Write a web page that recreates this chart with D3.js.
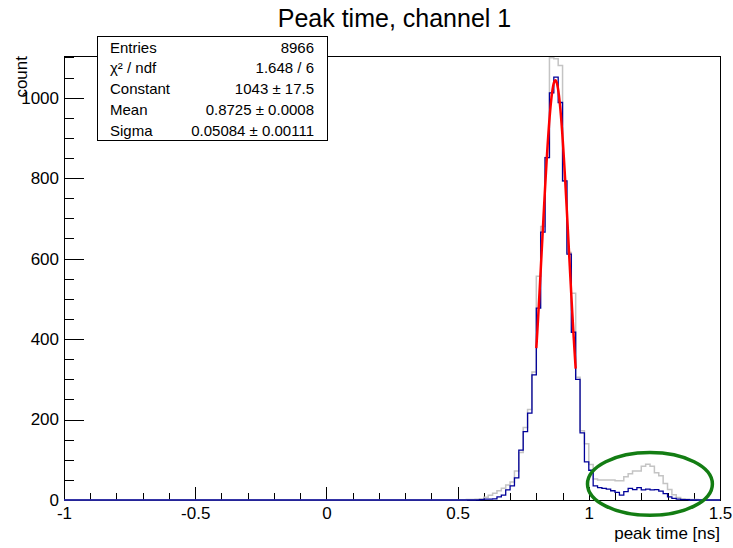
<!DOCTYPE html>
<html>
<head>
<meta charset="utf-8">
<script src="https://cdn.jsdelivr.net/npm/d3@7"></script>
<style>
  html, body { margin: 0; padding: 0; background: #fff; }
  svg text { font-family: "Liberation Sans", Arial, Helvetica, sans-serif; fill: #000; }
</style>
</head>
<body>
<svg id="chart" width="733" height="548"></svg>
<script>
// Peak-time histograms: 150 equal bins from -1 ns to 1.5 ns
const binRange = [-1, 1.5];

// Selected events (blue)
const blueCounts = [
  0,0,0,0,0,0,0,0,0,0, 0,0,0,0,0,0,0,0,0,0, 0,0,0,0,0,0,0,0,0,0,
  0,0,0,0,0,0,0,0,0,0, 0,0,0,0,0,0,0,0,0,0, 0,0,0,0,0,0,0,0,0,0,
  0,0,0,0,0,0,0,0,0,0, 0,0,0,0,0,0,0,0,0,0, 0,0,0,0,0,0,0,0,0,0,
  0,0,0,0,0,1,2,2,3,8,
  12,25,35,55,124,170,216,311,477,666,
  851,1012,1051,988,793,611,417,300,167,95,
  74,35,31,29,27,23,19,12,21,29,
  26,31,25,27,25,26,22,16,8,4,
  2,1,1,0,0,0,0,0,0,0
];

// All events (grey)
const grayCounts = [
  0,0,0,0,0,0,0,0,0,0, 0,0,0,0,0,0,0,0,0,0, 0,0,0,0,0,0,0,0,0,0,
  0,0,0,0,0,0,0,0,0,0, 0,0,0,0,0,0,0,0,0,0, 0,0,0,0,0,0,0,0,0,0,
  0,0,0,0,0,0,0,0,0,0, 0,0,0,0,0,0,0,0,0,0, 0,0,0,0,0,0,0,0,0,0,
  0,0,1,1,2,3,7,12,17,23,
  29,37,45,72,118,180,225,318,556,680,
  851,1099,1097,1080,792,615,514,305,172,140,
  88,52,50,50,50,50,48,48,58,65,
  72,72,84,89,84,68,60,41,26,13,
  6,3,2,1,1,0,0,0,0,0
];

// Gaussian fit: Constant, Mean, Sigma and their errors
const fitNames  = ["Constant", "Mean", "Sigma"];
const fitValues = [1043, 0.8725, 0.05084];
const fitErrors = [17.5, 0.0008, 0.00111];
const fitDigits = [0, 4, 5];
const errDigits = [1, 4, 5];
const fitRange  = [0.8, 0.95];
const entries = 8966;
const chi2 = 1.648, ndf = 6;

// Tail region marked with an ellipse (centre in ns / counts, half-axes)
const markCenter = [1.233, 40];
const markRadii  = [0.238, 78];

// Axis ticks
const xTicks = [-1, -0.5, 0, 0.5, 1, 1.5];
const yTicks = [0, 200, 400, 600, 800, 1000];
const xMinorStep = 0.1;
const yMinorStep = 50;

const svg = d3.select("#chart");
const W = 733, H = 548;
const frame = { left: 64, right: 720, top: 56, bottom: 500 };

svg.append("rect").attr("width", W).attr("height", H).attr("fill", "#fff");

const nBins = blueCounts.length;
const binW = (binRange[1] - binRange[0]) / nBins;
const yMax = 1.05 * d3.max(blueCounts);

const x = d3.scaleLinear().domain(binRange).range([frame.left, frame.right]);
const y = d3.scaleLinear().domain([0, yMax]).range([frame.bottom, frame.top]);

const fW = frame.right - frame.left, fH = frame.bottom - frame.top;

// Frame
svg.append("rect")
  .attr("x", frame.left).attr("y", frame.top)
  .attr("width", fW).attr("height", fH)
  .attr("fill", "none").attr("stroke", "#000").attr("stroke-width", 1)
  .attr("shape-rendering", "crispEdges");

// Axes: ticks point into the frame (major 3% of the opposite side, minor half)
const xMinor = d3.range(binRange[0], binRange[1] + 1e-9, xMinorStep);
const yMinor = d3.range(0, yMax, yMinorStep);

function styleAxis(g) {
  g.select(".domain").remove();
  g.selectAll("line").attr("stroke", "#000").attr("shape-rendering", "crispEdges");
  g.selectAll("text").attr("font-size", 17).attr("font-family", '"Liberation Sans", Arial, Helvetica, sans-serif').attr("fill", "#000");
}

svg.append("g").attr("transform", `translate(0,${frame.bottom})`)
  .call(d3.axisBottom(x).tickValues(xMinor).tickSize(-0.015 * fH).tickFormat(""))
  .call(styleAxis);
svg.append("g").attr("transform", `translate(0,${frame.bottom})`)
  .call(d3.axisBottom(x).tickValues(xTicks).tickSize(-0.03 * fH).tickPadding(7)
        .tickFormat(d => String(d)))
  .call(styleAxis);

svg.append("g").attr("transform", `translate(${frame.left},0)`)
  .call(d3.axisLeft(y).tickValues(yMinor).tickSize(-0.015 * fW).tickFormat(""))
  .call(styleAxis);
svg.append("g").attr("transform", `translate(${frame.left},0)`)
  .call(d3.axisLeft(y).tickValues(yTicks).tickSize(-0.03 * fW).tickPadding(5)
        .tickFormat(d => String(d)))
  .call(styleAxis);

// Histogram outlines as step lines
function stepPoints(counts) {
  const pts = counts.map((c, i) => [binRange[0] + i * binW, c]);
  pts.push([binRange[1], counts[counts.length - 1]]);
  return pts;
}
const step = d3.line().x(d => x(d[0])).y(d => y(d[1])).curve(d3.curveStepAfter);

svg.append("path").attr("d", step(stepPoints(grayCounts)))
  .attr("fill", "none").attr("stroke", "#c4c4c4").attr("stroke-width", 1.5);
svg.append("path").attr("d", step(stepPoints(blueCounts)))
  .attr("fill", "none").attr("stroke", "#000099").attr("stroke-width", 1.3);

// Gaussian fit curve
const [C, mu, sig] = fitValues;
const fitPts = d3.range(0, 201).map(i => {
  const t = fitRange[0] + (fitRange[1] - fitRange[0]) * i / 200;
  return [t, C * Math.exp(-0.5 * ((t - mu) / sig) ** 2)];
});
svg.append("path")
  .attr("d", d3.line().x(d => x(d[0])).y(d => y(d[1]))(fitPts))
  .attr("fill", "none").attr("stroke", "#ff0000").attr("stroke-width", 2.5);

// Ellipse around the late tail
svg.append("ellipse")
  .attr("cx", x(markCenter[0])).attr("cy", y(markCenter[1]))
  .attr("rx", x(markCenter[0] + markRadii[0]) - x(markCenter[0]))
  .attr("ry", y(0) - y(markRadii[1]))
  .attr("fill", "none").attr("stroke", "#137d13").attr("stroke-width", 3.5);

// Title and axis titles
svg.append("text").attr("x", 394.5).attr("y", 27).attr("text-anchor", "middle")
  .attr("font-size", 25).text("Peak time, channel 1");
svg.append("text").attr("x", frame.right).attr("y", 539).attr("text-anchor", "end")
  .attr("font-size", 17).text("peak time [ns]");
svg.append("text").attr("transform", `translate(27,${frame.top}) rotate(-90)`)
  .attr("text-anchor", "end").attr("font-size", 17).text("count");

// Statistics box
const box = { x0: 97, x1: 327, y0: 36, y1: 140 };
const statNames = ["Entries", "χ² / ndf"].concat(fitNames);
const statValues = [String(entries), `${chi2.toFixed(3)} / ${ndf}`].concat(
  fitValues.map((v, i) => `${v.toFixed(fitDigits[i])} ± ${fitErrors[i].toFixed(errDigits[i])}`));

svg.append("rect")
  .attr("x", box.x0).attr("y", box.y0)
  .attr("width", box.x1 - box.x0).attr("height", box.y1 - box.y0)
  .attr("fill", "#fff").attr("stroke", "#000").attr("stroke-width", 1)
  .attr("shape-rendering", "crispEdges");

const rowH = (box.y1 - box.y0) / statNames.length;
statNames.forEach((name, i) => {
  const by = box.y0 + rowH * i + 16.5;
  svg.append("text").attr("x", box.x0 + 13).attr("y", by)
    .attr("font-size", 15).text(name);
  svg.append("text").attr("x", box.x1 - 13).attr("y", by)
    .attr("text-anchor", "end").attr("font-size", 15).text(statValues[i]);
});
</script>
</body>
</html>
